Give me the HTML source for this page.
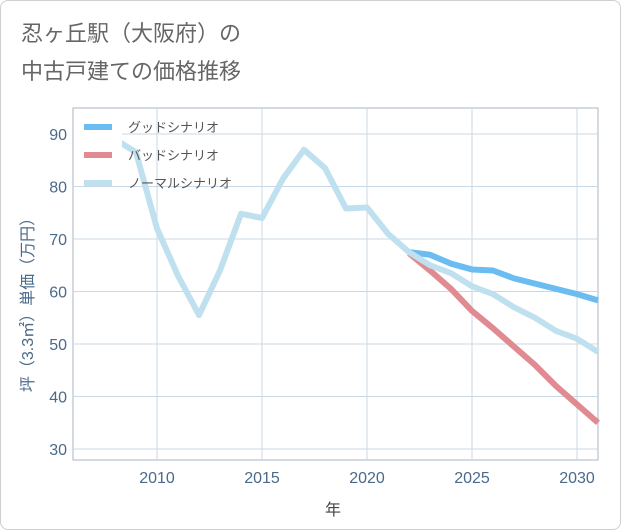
<!DOCTYPE html>
<html><head><meta charset="utf-8"><style>
body{margin:0;background:#fff;font-family:"Liberation Sans","Noto Sans CJK JP",sans-serif}
#wrap{position:relative;width:619px;height:528px;border:1px solid #cfcfcf;border-radius:8px;overflow:hidden}
</style></head><body>
<div id="wrap">
<svg id="chart" width="621" height="530">
<text x="20" y="40" font-size="22" fill="#666">忍ヶ丘駅（大阪府）の</text>
<text x="20" y="78" font-size="22" fill="#666">中古戸建ての価格推移</text>
<g id="grid"></g><g id="series"></g><g id="legend"></g>
<text x="332" y="514" font-size="16" fill="#444" text-anchor="middle">年</text>
<text transform="translate(32,300) rotate(-90)" font-size="16" fill="#4a6a8a" text-anchor="middle">坪（3.3㎡）単価（万円）</text>
</svg></div>
<script>
const years=[2008,2009,2010,2011,2012,2013,2014,2015,2016,2017,2018,2019,2020,2021,2022,2023,2024,2025,2026,2027,2028,2029,2030,2031];
const normal=[89,86.5,72,63,55.5,64,74.8,74,81.5,87,83.5,75.8,76,71,67.5,65,63.5,61,59.5,57,55,52.5,51,48.5];
const goodYears=[2022,2023,2024,2025,2026,2027,2028,2029,2030,2031];
const good=[67.5,67,65.3,64.2,64,62.5,61.5,60.5,59.5,58.3];
const bad=[67.3,64,60.5,56.3,53,49.5,46,42,38.5,35];
const xTicks=[2010,2015,2020,2025,2030];
const yTicks=[30,40,50,60,70,80,90];
const NS="http://www.w3.org/2000/svg";
const X=v=>156+(v-2010)*21, Y=v=>448-(v-30)*5.25;
const L=72,R=597,T=107,B=459;
function mk(p,t,a){const e=document.createElementNS(NS,t);for(const k in a)e.setAttribute(k,a[k]);p.appendChild(e);return e;}
const g=document.getElementById('grid');
let fr=mk(g,'rect',{x:L,y:T,width:R-L,height:B-T,fill:'none',stroke:'#aab4c0'});


xTicks.forEach(t=>{let l=mk(g,'line',{x1:X(t),x2:X(t),y1:T,y2:B,stroke:'#c8d8e6'});


let tx=mk(g,'text',{x:X(t),y:482,'font-size':16,fill:'#4a6a8a','text-anchor':'middle'});tx.textContent=t;

});
yTicks.forEach(t=>{let l=mk(g,'line',{x1:L,x2:R,y1:Y(t),y2:Y(t),stroke:'#c8d8e6'});


let tx=mk(g,'text',{x:66,y:Y(t)+6,'font-size':16,fill:'#4a6a8a','text-anchor':'end'});tx.textContent=t;

});
const s=document.getElementById('series');
function line(xs,ys,c,n){let p=mk(s,'polyline',{points:xs.map((x,i)=>X(x)+','+Y(ys[i])).join(' '),fill:'none',stroke:c,'stroke-width':6,'stroke-linejoin':'round'});

}
line(goodYears,good,'#6bbcf0','good-scenario-line');
line(goodYears,bad,'#e08a92','bad-scenario-line');
line(years,normal,'#bfe0ee','normal-scenario-line');
let cover=mk(s,'rect',{x:L+1,y:T+20,width:121-L-1,height:40,fill:'#fff'});


const lg=document.getElementById('legend');
[['グッドシナリオ','#6bbcf0'],['バッドシナリオ','#e08a92'],['ノーマルシナリオ','#bfe0ee']].forEach((d,i)=>{
let y=126+i*28;let l=mk(lg,'line',{x1:83,x2:111,y1:y,y2:y,stroke:d[1],'stroke-width':6});


let t=mk(lg,'text',{x:127,y:y+5,'font-size':13,fill:'#555'});t.textContent=d[0];

});
</script>
</body></html>
